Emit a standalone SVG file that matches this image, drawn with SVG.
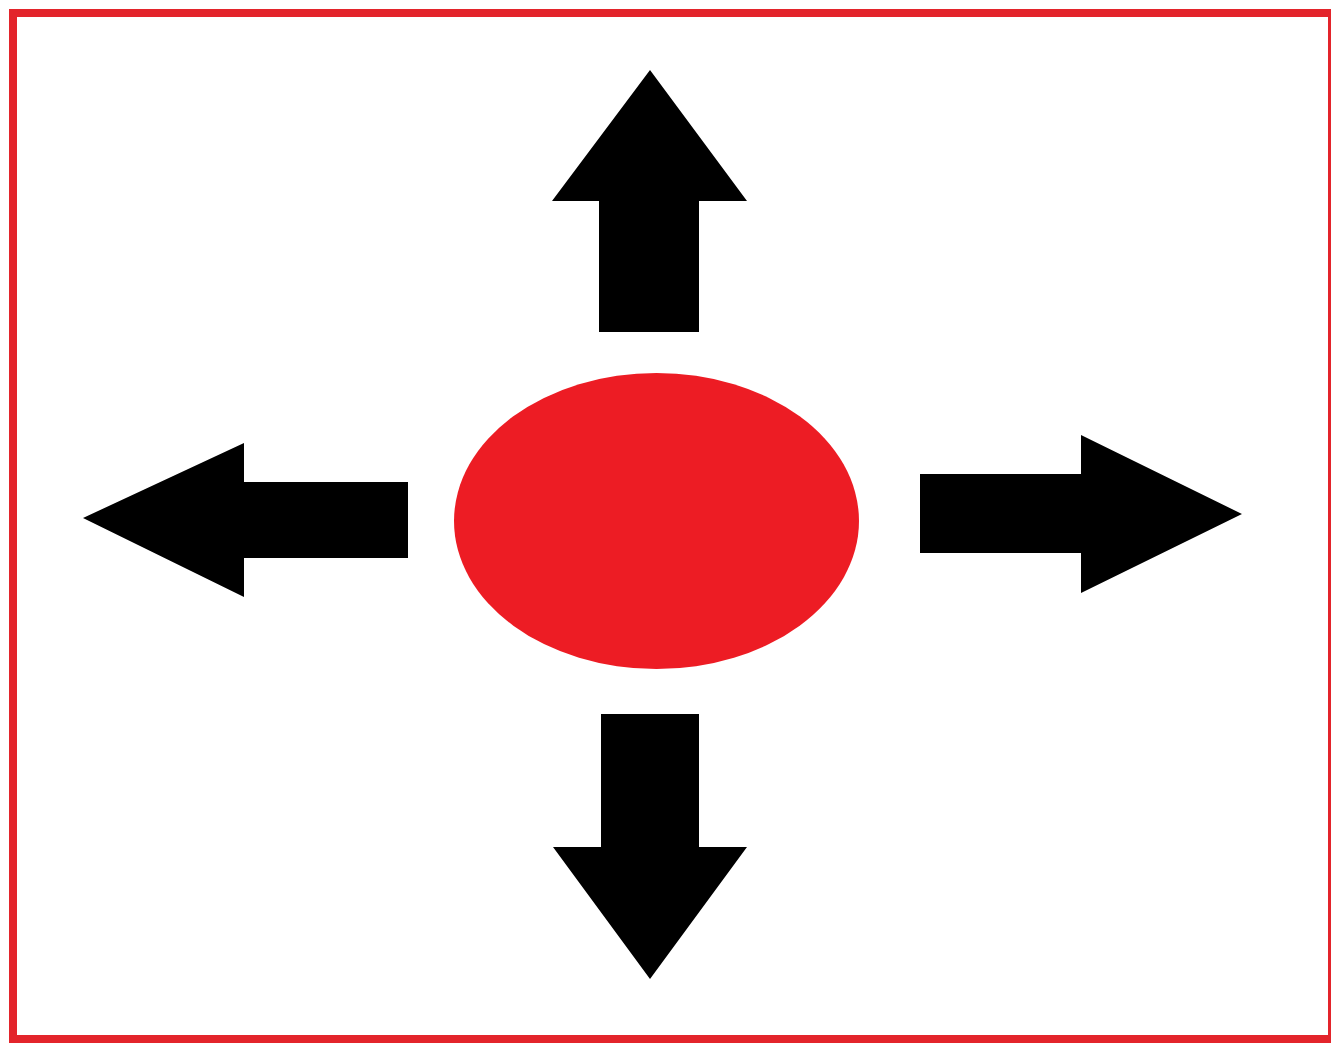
<svg xmlns="http://www.w3.org/2000/svg" width="1331" height="1043" viewBox="0 0 1331 1043">
<style>
.arrow{fill:#000000;}
.frame{fill:none;stroke:#e3242b;stroke-width:8;}
.core{fill:#ed1c24;}
</style>
<rect width="1331" height="1043" fill="#ffffff"/>
<rect class="frame" x="13" y="13" width="1319" height="1026"/>
<g id="center">
<ellipse class="core" cx="656.5" cy="521" rx="202.5" ry="148"/>
</g>
<g id="connectors">
<polygon id="arrow-up" class="arrow" points="650,70 747,201 699,201 699,332 599,332 599,201 552,201"/>
<polygon id="arrow-left" class="arrow" points="83,518 244,443 244,482 408,482 408,558 244,558 244,597"/>
<polygon id="arrow-right" class="arrow" points="1242,514 1081,435 1081,474 920,474 920,553 1081,553 1081,593"/>
<polygon id="arrow-down" class="arrow" points="650,979 747,847 699,847 699,714 601,714 601,847 553,847"/>
</g>
</svg>
